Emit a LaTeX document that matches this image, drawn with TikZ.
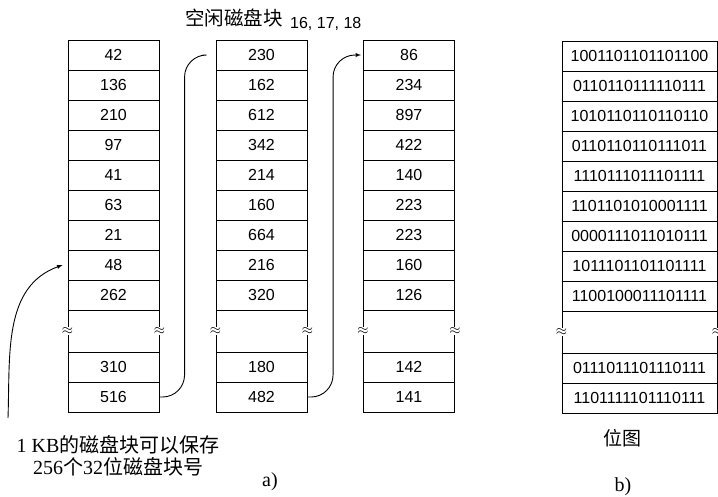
\documentclass[tikz,border=0pt]{standalone}
\usepackage{fontspec}
\setmainfont{Liberation Serif}
\setsansfont{Liberation Sans}
\newfontfamily\cjk{Noto Sans CJK SC}

\begin{document}
\begin{tikzpicture}[x=1pt,y=-1pt,
        cell/.style={draw, line width=0.9pt, minimum width=91pt, minimum height=30pt,
          inner sep=0pt, font=\sffamily\fontsize{16}{18}\selectfont},
        wide/.style={cell, minimum width=155pt},
        gaprow/.style={draw, line width=0.9pt, minimum width=91pt, minimum height=42pt, inner sep=0pt},
        brk/.style={fill=white, inner sep=0.6pt, font=\fontsize{14}{14}\selectfont},
        link/.style={line width=0.9pt},
        lbl/.style={inner sep=0pt, font=\fontsize{20}{22}\selectfont}]
        \useasboundingbox (0,0) rectangle (718,496);
        \node[anchor=base west, inner sep=0pt, font=\cjk\fontsize{19.5}{22}\selectfont] (ttl) at (185,25) {空闲磁盘块};
        \node[anchor=base west, inner sep=0pt, font=\sffamily\fontsize{16}{18}\selectfont] (nums) at (290,28) {16, 17, 18};
        \foreach \v [count=\i] in {42,136,210,97,41,63,21,48,262}
          \node[cell] (a\i) at (113.5,{25+30*\i}) {\v};
        \node[gaprow] (a0) at (113.5,331) {};
        \node[cell] (a10) at (113.5,367) {310};
        \node[cell] (a11) at (113.5,397) {516};
        \foreach \v [count=\i] in {230,162,612,342,214,160,664,216,320}
          \node[cell] (b\i) at (261.5,{25+30*\i}) {\v};
        \node[gaprow] (b0) at (261.5,331) {};
        \node[cell] (b10) at (261.5,367) {180};
        \node[cell] (b11) at (261.5,397) {482};
        \foreach \v [count=\i] in {86,234,897,422,140,223,223,160,126}
          \node[cell] (c\i) at (409,{25+30*\i}) {\v};
        \node[gaprow] (c0) at (409,331) {};
        \node[cell] (c10) at (409,367) {142};
        \node[cell] (c11) at (409,397) {141};
        \foreach \v [count=\i] in {1001101101101100,0110110111110111,1010110110110110,
            0110110110111011,1110111011101111,1101101010001111,0000111011010111,
            1011101101101111,1100100011101111}
          \node[wide] (d\i) at (639.5,{26+30*\i}) {\v};
        \node[gaprow, minimum width=155pt] (d0) at (639.5,332) {};
        \node[wide] (d10) at (639.5,368) {0111011101110111};
        \node[wide] (d11) at (639.5,398) {1101111101110111};
        \foreach \c in {a,b,c,d} {
          \node[brk] at (\c0.west) {$\approx$};
          \node[brk] at (\c0.east) {$\approx$};
        }
        \coordinate (p1) at ([xshift=-13pt]b1.west);
        \coordinate (q1) at (8,418);
        \draw[link, rounded corners=22pt] (a11.east) -| ([xshift=-18pt]p1) -- (p1);
        \draw[link, -latex, rounded corners=22pt, shorten >=2pt] (b11.east) -| ([xshift=-30pt]c1.west) -- (c1.west);
        \draw[link, -latex] (q1) to[out=88, in=200] ([xshift=-5pt]a8.west);
        \node[lbl, align=center] (note) at (118,456) {1 KB{\cjk 的磁盘块可以保存}\\256{\cjk 个}32{\cjk 位磁盘块号}};
        \node[lbl] (capa) at (270,482) {a)};
        \node[lbl, font=\cjk\fontsize{19}{22}\selectfont] (bmp) at (622,438) {位图};
        \node[lbl] (capb) at (623,487) {b)};
    \end{tikzpicture}
\end{document}
